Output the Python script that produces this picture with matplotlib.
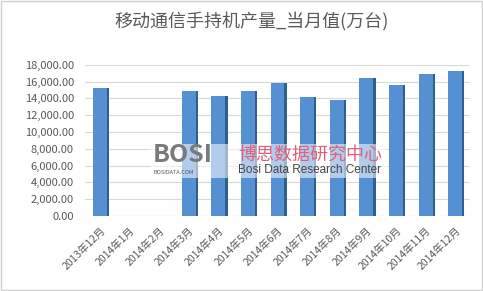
import numpy as np
import matplotlib.pyplot as plt
from matplotlib.patches import Rectangle

plt.rcParams['font.family'] = ['Noto Sans CJK SC', 'DejaVu Sans']

months = ['2013年12月', '2014年1月', '2014年2月', '2014年3月', '2014年4月', '2014年5月',
          '2014年6月', '2014年7月', '2014年8月', '2014年9月', '2014年10月', '2014年11月', '2014年12月']
output = [15300, np.nan, np.nan, 14900, 14300, 14850, 15800, 14150, 13800, 16450, 15650, 16950, 17250]

x = np.arange(len(months))
vals = np.nan_to_num(np.array(output, dtype=float))

fig = plt.figure(figsize=(4.83, 2.91), dpi=100)
ax = fig.add_axes([0.176, 0.258, 0.797, 0.519])

# front face and darker side face to mimic the 3D columns
ax.bar(x, vals, 0.47, color='#5590d3', zorder=3)
ax.bar(x + 0.235 + 0.04, vals, 0.08, color='#2f5f8e', zorder=3)

ax.set_xlim(-0.5, 12.5)
ax.set_ylim(0, 18000)
ax.set_yticks(np.arange(0, 18001, 2000))
ax.set_yticklabels(['{:,.2f}'.format(v) for v in np.arange(0, 18001, 2000)])
ax.set_xticks(x)
ax.set_xticklabels(months, rotation=45, ha='right', rotation_mode='anchor')
ax.tick_params(axis='both', length=0, labelsize=8, colors='#595959')
ax.tick_params(axis='x', pad=7, labelsize=7.5)
ax.tick_params(axis='y', pad=8)
ax.grid(axis='y', color='#d9d9d9', linewidth=0.8, zorder=0)
for s in ax.spines.values():
    s.set_visible(False)
ax.axhline(0, color='#d9d9d9', linewidth=0.8, zorder=1)

fig.text(252 / 483, 0.925, '移动通信手持机产量_当月值(万台)', ha='center', va='center',
         fontsize=13, color='#595959')

# watermark
fig.patches.append(Rectangle((150 / 483, 1 - 178 / 291), 237 / 483, 34 / 291,
                             transform=fig.transFigure, facecolor='white', alpha=0.55,
                             edgecolor='none', zorder=5))
fig.text(153 / 483, 1 - 155 / 291, 'BOSI', fontsize=18, fontweight='bold', color='#7a7a7a',
         ha='left', va='center', zorder=6)
fig.text(154 / 483, 1 - 173 / 291, 'BOSIDATA.COM', fontsize=4, color='#555555',
         ha='left', va='center', zorder=6)
fig.text(238 / 483, 1 - 155 / 291, '博思数据研究中心', fontsize=13, color='#e0607a',
         ha='left', va='center', zorder=6)
fig.text(238 / 483, 1 - 170 / 291, 'Bosi Data Research Center', fontsize=8.5, color='#444444',
         ha='left', va='center', zorder=6, family=['Liberation Sans', 'DejaVu Sans'])

fig.patches.append(Rectangle((0.002, 0.003), 0.995, 0.994, transform=fig.transFigure,
                             facecolor='none', edgecolor='#d0d0d0', linewidth=1))

fig.savefig('out.png', dpi=100)
